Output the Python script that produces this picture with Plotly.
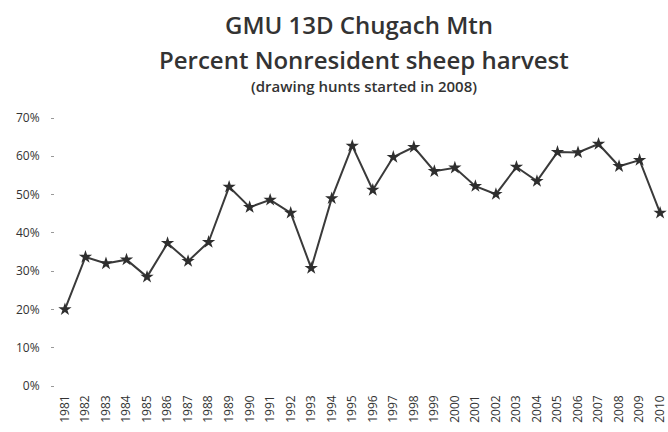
import plotly.graph_objects as go

years = [str(y) for y in range(1981, 2011)]
pct_nonresident = [20.0, 33.7, 32.0, 33.0, 28.5, 37.3, 32.6, 37.6, 52.0, 46.7,
                   48.6, 45.2, 30.8, 49.0, 62.7, 51.2, 59.8, 62.4, 56.1, 57.0,
                   52.2, 50.1, 57.2, 53.5, 61.1, 61.0, 63.2, 57.4, 59.0, 45.2]
y_ticks = [0, 10, 20, 30, 40, 50, 60, 70]
y_tick_labels = [f"{v}%" for v in y_ticks]

fig = go.Figure()
fig.add_trace(go.Scatter(
    x=years, y=pct_nonresident, mode="lines+markers",
    line=dict(color="#3a3a3a", width=2),
    marker=dict(symbol="star", size=10, color="#2e2e2e"),
    cliponaxis=False, showlegend=False,
))

font = "Open Sans, Liberation Sans, sans-serif"
L, B, W, H = 55, 46, 613, 268


def px(x, y):
    # convert page pixel position to paper coordinates
    return (x - L) / W, (432 - y - B) / H


titles = [
    ("GMU 13D Chugach Mtn", 361, 24, 24, 600),
    ("Percent Nonresident sheep harvest", 366, 59, 24, 600),
    ("(drawing hunts started in 2008)", 366, 86, 15, 600),
]
annotations = []
for text, x, y, size, weight in titles:
    ax, ay = px(x, y)
    annotations.append(dict(text=text, x=ax, y=ay, xref="paper", yref="paper",
                            xanchor="center", yanchor="middle", showarrow=False,
                            font=dict(size=size, color="#333", weight=weight)))

fig.update_layout(
    width=668, height=432,
    margin=dict(l=L, r=0, t=118, b=B),
    paper_bgcolor="white", plot_bgcolor="white",
    font=dict(family=font, color="#333"),
    annotations=annotations,
)

fig.update_xaxes(
    type="category", range=[-0.484, 29.19],
    tickangle=-90, tickfont=dict(size=12, color="#333"),
    ticklabelstandoff=6,
    showgrid=False, showline=False, zeroline=False, ticks="",
)
fig.update_yaxes(
    range=[0, 70], tickvals=y_ticks, ticktext=y_tick_labels,
    tickfont=dict(size=12, color="#333"),
    ticklabelstandoff=9,
    showgrid=False, showline=False, zeroline=False,
    ticks="outside", ticklen=3, tickcolor="#999",
)

fig.write_html("out.html")
